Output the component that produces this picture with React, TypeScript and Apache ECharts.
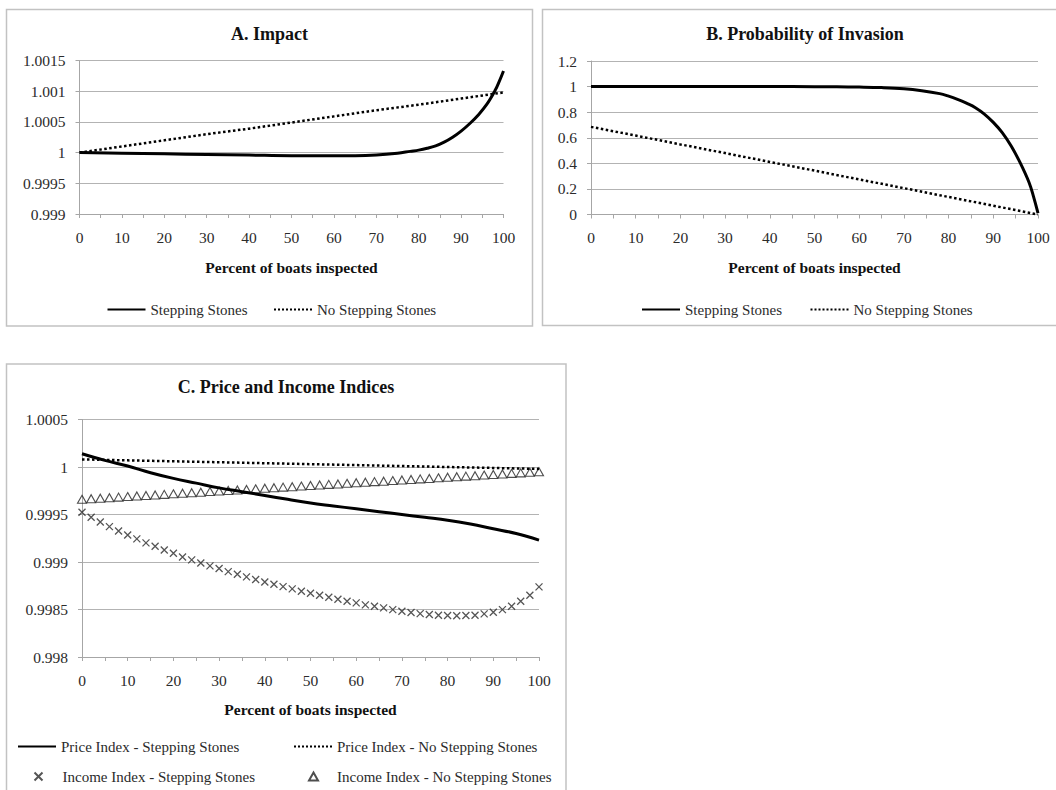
import React, { useEffect, useRef } from "react";
import * as echarts from "echarts";

const FONT = "Liberation Serif";

// ---- Panel A: Impact ----
const A_X_SS = [0, 10, 20, 30, 40, 50, 55, 60, 65, 70, 75, 78, 80, 82, 84, 86, 88, 90, 92, 94, 96, 98, 99, 100];
const A_SS = [1, 0.99999, 0.99998, 0.99997, 0.99996, 0.99995, 0.99995, 0.99995, 0.99995, 0.99996, 0.99999, 1.00002, 1.00004, 1.00007, 1.00011, 1.00017, 1.00025, 1.00035, 1.00047, 1.00061, 1.00078, 1.00101, 1.00116, 1.00133];
const A_X_NSS = [0, 10, 20, 30, 40, 50, 60, 70, 80, 90, 100];
const A_NSS = [1, 1.0001, 1.0002, 1.0003, 1.00039, 1.00049, 1.00059, 1.00069, 1.00078, 1.00088, 1.00098];

// ---- Panel B: Probability of Invasion ----
const B_X_SS = [0, 10, 20, 30, 40, 50, 55, 60, 65, 70, 74, 78, 80, 82, 84, 86, 88, 90, 92, 94, 96, 98, 99, 100];
const B_SS = [1, 1, 1, 1, 1, 0.999, 0.998, 0.996, 0.992, 0.983, 0.968, 0.945, 0.925, 0.9, 0.87, 0.835, 0.785, 0.72, 0.64, 0.535, 0.405, 0.25, 0.14, 0.01];
const B_X_NSS = [0, 10, 20, 30, 40, 50, 60, 70, 80, 90, 100];
const B_NSS = [0.685, 0.617, 0.548, 0.48, 0.411, 0.343, 0.274, 0.206, 0.137, 0.069, 0];

// ---- Panel C: Price and Income Indices ----
const C_X_PSS = [0, 5, 10, 15, 20, 25, 30, 35, 40, 45, 50, 55, 60, 65, 70, 75, 80, 85, 90, 95, 100];
const C_PSS = [1.00014, 1.00007, 1.00001, 0.99994, 0.99988, 0.99983, 0.99978, 0.99974, 0.9997, 0.99966, 0.99962, 0.99959, 0.99956, 0.99953, 0.9995, 0.99947, 0.99944, 0.9994, 0.99935, 0.9993, 0.99923];
const C_X_PNSS = [0, 10, 20, 30, 40, 50, 60, 70, 80, 90, 100];
const C_PNSS = [1.00008, 1.00007, 1.00006, 1.00005, 1.00004, 1.00003, 1.00002, 1.00001, 1.0, 0.99999, 0.99998];
const C_X_INC = [0, 2, 4, 6, 8, 10, 12, 14, 16, 18, 20, 22, 24, 26, 28, 30, 32, 34, 36, 38, 40, 42, 44, 46, 48, 50, 52, 54, 56, 58, 60, 62, 64, 66, 68, 70, 72, 74, 76, 78, 80, 82, 84, 86, 88, 90, 92, 94, 96, 98, 100];
const C_ISS = [0.999523, 0.999471, 0.999421, 0.999372, 0.999327, 0.999285, 0.999243, 0.999201, 0.999166, 0.999127, 0.999092, 0.999053, 0.999022, 0.99899, 0.998959, 0.998931, 0.998899, 0.998871, 0.998843, 0.998815, 0.99879, 0.998766, 0.998741, 0.998717, 0.998692, 0.998671, 0.99865, 0.998629, 0.998608, 0.998587, 0.99857, 0.998549, 0.998534, 0.998517, 0.998499, 0.998482, 0.998468, 0.998457, 0.998447, 0.99844, 0.998436, 0.998434, 0.998436, 0.99844, 0.998454, 0.998471, 0.998499, 0.998534, 0.998587, 0.99865, 0.998738];
const C_INSS = [0.99966, 0.999666, 0.999672, 0.999677, 0.999683, 0.999689, 0.999695, 0.999701, 0.999706, 0.999712, 0.999718, 0.999724, 0.99973, 0.999735, 0.999741, 0.999747, 0.999753, 0.999759, 0.999764, 0.99977, 0.999776, 0.999782, 0.999788, 0.999793, 0.999799, 0.999805, 0.999811, 0.999817, 0.999822, 0.999828, 0.999834, 0.99984, 0.999846, 0.999851, 0.999857, 0.999863, 0.999869, 0.999875, 0.99988, 0.999886, 0.999892, 0.999898, 0.999904, 0.999909, 0.999915, 0.999921, 0.999927, 0.999933, 0.999938, 0.999944, 0.99995];

const TITLES = ["A. Impact", "B. Probability of Invasion", "C. Price and Income Indices"];
const X_TITLE = "Percent of boats inspected";
const N_SS = "Stepping Stones";
const N_NSS = "No Stepping Stones";
const N_PSS = "Price Index - Stepping Stones";
const N_PNSS = "Price Index - No Stepping Stones";
const N_ISS = "Income Index - Stepping Stones";
const N_INSS = "Income Index - No Stepping Stones";

const zip = (xs: number[], ys: number[]) => xs.map((x, i) => [x, ys[i]]);

const AXIS_GRAY = "#a6a6a6";
const GRID_GRAY = "#b3b3b3";
const TEXT = "#2b2b2b";
const TICK_FONT = 15.5;
const fmtNum = (v: number) => String(parseFloat(Number(v).toFixed(6)));

function xAxisFor(gridIndex: number) {
  return {
    type: "value",
    gridIndex,
    min: 0,
    max: 100,
    interval: 10,
    axisLine: { show: true, onZero: false, lineStyle: { color: AXIS_GRAY, width: 1 } },
    axisTick: { show: true, length: 4, lineStyle: { color: AXIS_GRAY } },
    minorTick: { show: true, splitNumber: 2, length: 4, lineStyle: { color: AXIS_GRAY } },
    splitLine: { show: false },
    axisLabel: {
      fontFamily: FONT,
      fontSize: TICK_FONT,
      color: TEXT,
      margin: 15,
    },
  };
}

function yAxisFor(gridIndex: number, min: number, max: number, interval: number) {
  return {
    type: "value",
    gridIndex,
    min,
    max,
    interval,
    axisLine: { show: true, onZero: false, lineStyle: { color: AXIS_GRAY, width: 1 } },
    axisTick: { show: true, length: 4, lineStyle: { color: AXIS_GRAY } },
    splitLine: { show: true, lineStyle: { color: GRID_GRAY, width: 1 } },
    axisLabel: {
      fontFamily: FONT,
      fontSize: TICK_FONT,
      color: TEXT,
      margin: 14,
      formatter: fmtNum,
    },
  };
}

const solid = { color: "#000", width: 3 };
const dotted = { color: "#000", width: 2.5, type: "dotted" };

function lineLegend(name: string, left: number, top: number) {
  return {
    data: [name],
    left,
    top,
    padding: 0,
    itemWidth: 38,
    itemHeight: 10,
    selectedMode: false,
    itemStyle: { opacity: 0 },
    textStyle: { fontFamily: FONT, fontSize: 15, color: TEXT },
  };
}

function markerLegend(name: string, centerX: number, centerY: number, textLeft: number) {
  const w = 9;
  const left = centerX - w / 2;
  return {
    data: [name],
    left,
    top: centerY - 4,
    padding: 0,
    itemWidth: w,
    itemHeight: 8,
    selectedMode: false,
    textStyle: {
      fontFamily: FONT,
      fontSize: 15,
      color: TEXT,
      padding: [0, 0, 0, textLeft - (left + w + 5)],
    },
  };
}

function centerText(text: string, x: number, y: number, font: string) {
  return {
    type: "text",
    x,
    y,
    style: {
      text,
      font,
      fill: "#111",
      textAlign: "center",
      textVerticalAlign: "middle",
      align: "center",
      verticalAlign: "middle",
    },
  };
}

function border(x: number, y: number, w: number, h: number) {
  return {
    type: "rect",
    shape: { x, y, width: w, height: h },
    style: { fill: "none", stroke: "#c2c2c2", lineWidth: 1.5 },
    silent: true,
  };
}

export default function App() {
  const ref = useRef<HTMLDivElement>(null);
  useEffect(() => {
    if (!ref.current) return;
    const chart = echarts.init(ref.current, undefined, { renderer: "svg" });
    const option: any = {
      animation: false,
      backgroundColor: "#fff",
      grid: [
        { left: 79.5, top: 60.5, width: 424, height: 153.5 },
        { left: 591, top: 61, width: 447, height: 153.5 },
        { left: 82, top: 419.5, width: 457, height: 237.5 },
      ],
      xAxis: [xAxisFor(0), xAxisFor(1), xAxisFor(2)],
      yAxis: [
        yAxisFor(0, 0.999, 1.0015, 0.0005),
        yAxisFor(1, 0, 1.2, 0.2),
        yAxisFor(2, 0.998, 1.0005, 0.0005),
      ],
      legend: [
        lineLegend(N_SS, 106.5, 302),
        lineLegend(N_NSS, 273, 302),
        lineLegend(N_SS, 641, 302),
        lineLegend(N_NSS, 809.5, 302),
        lineLegend(N_PSS, 17, 739),
        lineLegend(N_PNSS, 293, 739),
        markerLegend(N_ISS, 38, 773, 62),
        markerLegend(N_INSS, 312.5, 773, 336),
      ],
      series: [
        { type: "line", name: N_SS, xAxisIndex: 0, yAxisIndex: 0, data: zip(A_X_SS, A_SS), symbol: "none", smooth: 0.4, lineStyle: solid, itemStyle: { color: "#000" } },
        { type: "line", name: N_NSS, xAxisIndex: 0, yAxisIndex: 0, data: zip(A_X_NSS, A_NSS), symbol: "none", lineStyle: dotted, itemStyle: { color: "#000" } },
        { type: "line", name: N_SS, xAxisIndex: 1, yAxisIndex: 1, data: zip(B_X_SS, B_SS), symbol: "none", smooth: 0.4, lineStyle: solid, itemStyle: { color: "#000" } },
        { type: "line", name: N_NSS, xAxisIndex: 1, yAxisIndex: 1, data: zip(B_X_NSS, B_NSS), symbol: "none", lineStyle: dotted, itemStyle: { color: "#000" } },
        { type: "line", name: N_PSS, xAxisIndex: 2, yAxisIndex: 2, data: zip(C_X_PSS, C_PSS), symbol: "none", smooth: 0.4, lineStyle: solid, itemStyle: { color: "#000" } },
        { type: "line", name: N_PNSS, xAxisIndex: 2, yAxisIndex: 2, data: zip(C_X_PNSS, C_PNSS), symbol: "none", lineStyle: dotted, itemStyle: { color: "#000" } },
        {
          type: "scatter", name: N_ISS, xAxisIndex: 2, yAxisIndex: 2, data: zip(C_X_INC, C_ISS),
          symbol: "path://M0,0L10,10M10,0L0,10", symbolSize: 7,
          itemStyle: { color: "transparent", borderColor: "#2a2a2a", borderWidth: 1.3 },
        },
        {
          type: "scatter", name: N_INSS, xAxisIndex: 2, yAxisIndex: 2, data: zip(C_X_INC, C_INSS),
          symbol: "triangle", symbolSize: [9, 8],
          itemStyle: { color: "transparent", borderColor: "#222", borderWidth: 1.1 },
        },
      ],
      graphic: [
        border(6.5, 9.5, 526, 316.5),
        border(542.5, 9.5, 530, 316),
        border(6.5, 364, 559.5, 450),
        centerText(TITLES[0], 269.5, 33.5, `bold 18px "${FONT}"`),
        centerText(TITLES[1], 805, 33.5, `bold 18px "${FONT}"`),
        centerText(TITLES[2], 286, 387, `bold 18px "${FONT}"`),
        centerText(X_TITLE, 291.5, 267, `bold 15.5px "${FONT}"`),
        centerText(X_TITLE, 814.5, 267, `bold 15.5px "${FONT}"`),
        centerText(X_TITLE, 310.5, 709, `bold 15.5px "${FONT}"`),
      ],
    };
    chart.setOption(option);
    return () => chart.dispose();
  }, []);
  return (
    <div
      ref={ref}
      style={{ position: "fixed", left: 0, top: 0, width: 1056, height: 790, background: "#fff" }}
    />
  );
}
